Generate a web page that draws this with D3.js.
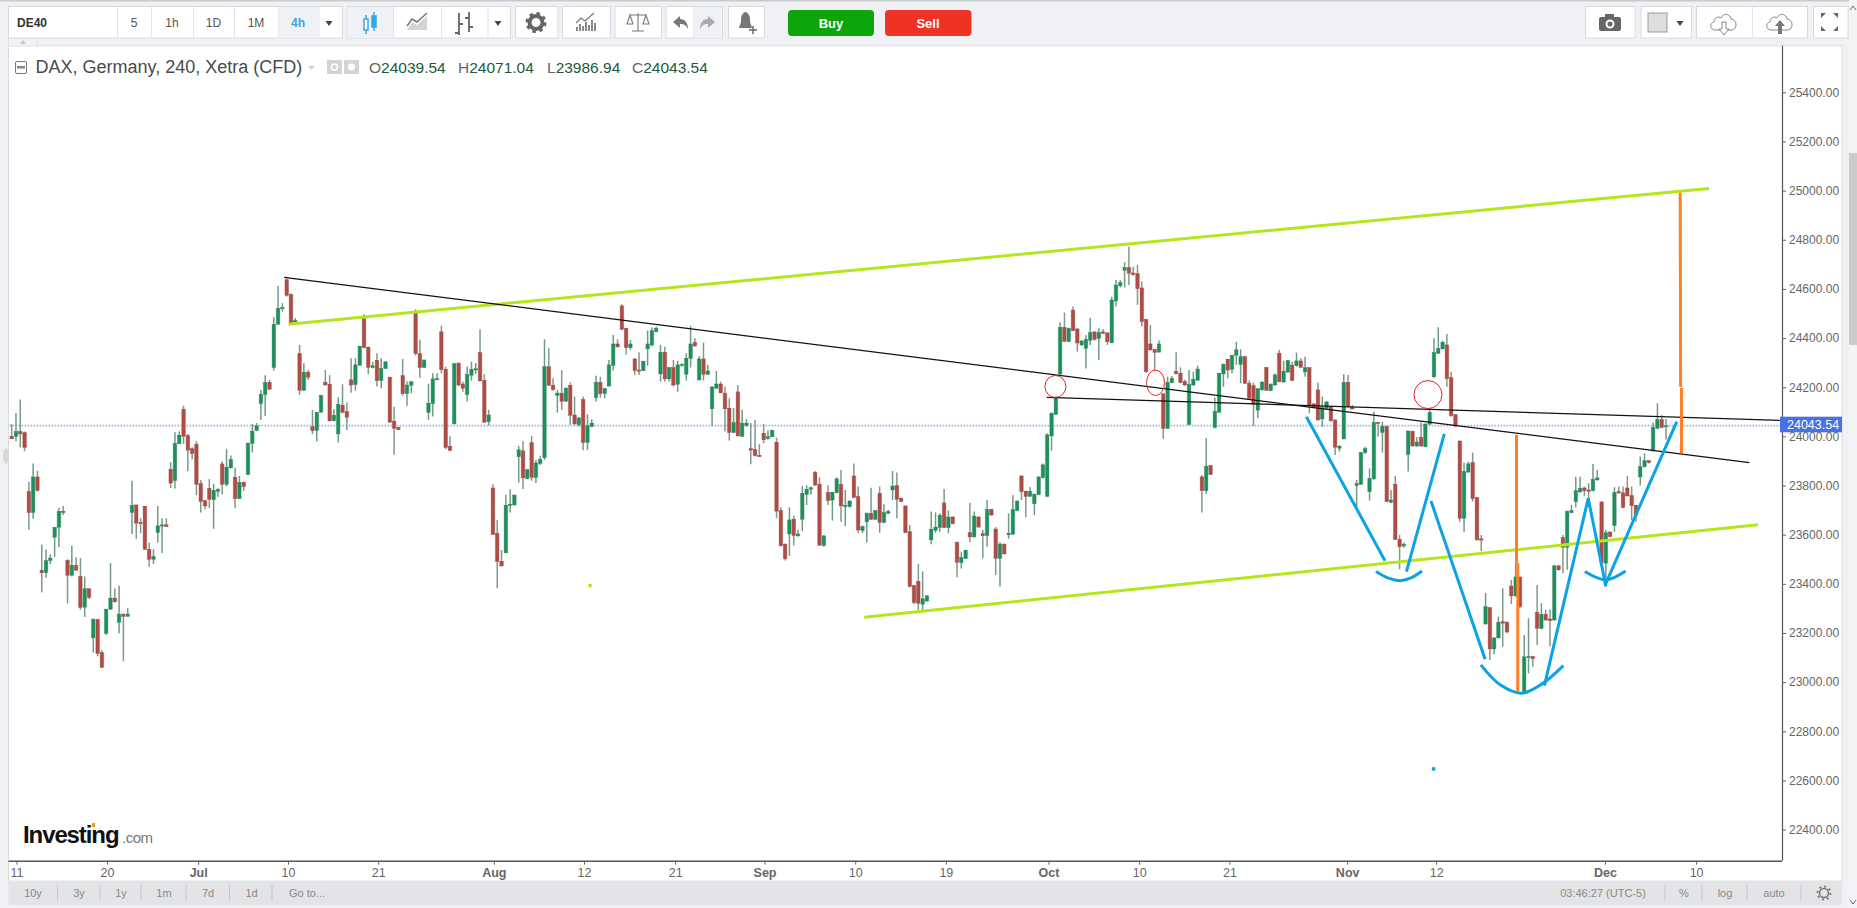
<!DOCTYPE html>
<html><head><meta charset="utf-8"><title>DE40</title>
<script src="https://cdnjs.cloudflare.com/ajax/libs/d3/7.8.5/d3.min.js"></script>
<style>html,body{margin:0;padding:0;background:#f0f1f5;overflow:hidden}svg{display:block}text{font-family:"Liberation Sans",Arial,sans-serif}</style>
</head><body><svg id="c" width="1857" height="908"></svg>
<script>
// Candles as [open, high, low, close], grouped by month
const junBars=[[24000,24050,23990,23990],[24000,24095,23980,24020],[24020,24150,23955,24010],[24015,24020,23940,23955],[23775,23815,23620,23690],[23690,23890,23665,23835],[23835,23860,23775,23780],[23455,23560,23365,23445],[23445,23540,23425,23495],[23495,23520,23480,23505],[23590,23630,23510,23630],[23630,23710,23550,23695],[23695,23717,23680,23690],[23495,23500,23320,23435],[23435,23555,23430,23475],[23475,23508,23455,23455],[23430,23505,23295,23305],[23305,23430,23265,23380],[23380,23380,23338,23345],[23180,23260,23120,23255],[23255,23255,23105,23117],[23120,23130,23060,23060],[23198,23297,23192,23297],[23297,23485,23294,23342],[23342,23382,23324,23327],[23243,23392,23199,23277],[23277,23277,23085,23268],[23268,23301,23267,23277],[23690,23819,23603,23720],[23721,23721,23583,23647],[23650,23667,23606,23645],[23716,23716,23538,23541],[23541,23568,23470,23500],[23500,23541,23481,23511],[23609,23717,23568,23636],[23635,23667,23525,23640],[23640,23667,23633,23633],[23866,23895,23790,23810],[23820,24017,23788,23972],[23970,24020,23970,24005],[24110,24125,23970,24000],[24003,24010,23858,23944],[23950,23956,23907,23930]];
const julBars=[[23968,23980,23761,23805],[23808,23823,23690,23735],[23738,23742,23703,23717],[23789,23826,23708,23744],[23742,23807,23624,23781],[23776,23789,23754,23785],[23888,23898,23763,23805],[23805,23948,23796,23875],[23872,23922,23869,23906],[23834,23872,23708,23747],[23747,23839,23746,23813],[23813,23816,23778,23796],[23845,23975,23842,23972],[23971,24051,23934,24021],[24024,24054,24021,24043],[24133,24189,24067,24171],[24170,24249,24083,24220],[24220,24230,24189,24192],[24280,24485,24268,24456],[24456,24612,24454,24521],[24520,24542,24508,24524],[24637,24642,24569,24574],[24577,24582,24455,24460],[24460,24481,24456,24471],[24337,24372,24169,24188],[24188,24298,24186,24261],[24261,24270,24230,24241],[24039,24108,24009,24024],[24024,24100,23979,24097],[24098,24168,24097,24167],[24220,24270,24209,24209],[24212,24249,24062,24063],[24064,24110,24062,24086],[24010,24159,23975,24131],[24127,24212,24094,24098],[24101,24138,24026,24078],[24230,24318,24178,24209],[24211,24318,24186,24291],[24290,24367,24287,24367],[24479,24497,24359,24361],[24363,24365,24253,24281],[24280,24304,24277,24287],[24310,24338,24203,24227],[24227,24318,24196,24277],[24276,24307,24275,24303],[24241,24241,24054,24058],[24062,24121,23925,24033],[24036,24040,24025,24028],[24247,24315,24165,24174],[24174,24223,24125,24209],[24208,24223,24176,24222],[24501,24517,24329,24337],[24337,24393,24239,24280],[24280,24311,24280,24311],[24098,24214,24067,24135],[24133,24257,24081,24234],[24231,24257,24230,24235],[24425,24450,24256,24272],[24273,24284,23948,23955],[23960,24000,23942,23942],[24051,24296,24048,24296],[24298,24300,24203,24209],[24213,24223,24182,24196],[24170,24284,24142,24252],[24249,24304,24227,24273],[24271,24298,24254,24275],[24341,24436,24223,24226],[24228,24253,24056,24058],[24060,24108,24044,24087]];
const augBars=[[23790,23805,23599,23601],[23605,23660,23382,23491],[23492,23538,23470,23473],[23526,23762,23525,23720],[23719,23785,23690,23724],[23721,23763,23719,23761],[23917,23961,23812,23945],[23941,23980,23786,23831],[23828,23868,23826,23864],[23974,24001,23820,23833],[23833,23904,23810,23892],[23889,23921,23884,23907],[23913,24395,23904,24283],[24283,24359,24205,24208],[24208,24237,24186,24190],[24167,24189,24097,24176],[24176,24270,24108,24143],[24143,24200,24142,24196],[24208,24220,24047,24086],[24087,24162,24044,24051],[24047,24078,24040,24075],[24150,24161,23944,23975],[23975,24090,23945,24044],[24040,24070,24037,24054],[24157,24247,24142,24220],[24220,24243,24158,24174],[24174,24196,24155,24195],[24205,24311,24203,24291],[24289,24413,24268,24376],[24376,24395,24363,24364],[24531,24538,24433,24436],[24440,24440,24332,24361],[24361,24393,24352,24376],[24315,24318,24249,24268],[24270,24342,24250,24268],[24268,24307,24266,24306],[24356,24430,24288,24376],[24372,24444,24365,24430],[24426,24447,24424,24440],[24254,24372,24223,24342],[24342,24365,24223,24234],[24234,24281,24223,24280],[24280,24311,24203,24209],[24212,24308,24182,24291],[24288,24298,24284,24293],[24253,24338,24227,24318],[24317,24450,24280,24376],[24382,24399,24365,24368],[24230,24327,24227,24315],[24315,24382,24227,24253],[24253,24291,24250,24266],[24112,24205,24043,24201],[24196,24266,24194,24213],[24213,24223,24176,24177],[24176,24203,24020,24112],[24115,24155,23983,24016],[24016,24115,24013,24056],[24181,24208,24000,24002],[24000,24108,23997,24054],[24044,24070,24040,24054],[23950,24054,23887,23944],[23946,24067,23918,23922],[23923,23968,23918,23919]];
const sepBars=[[24013,24051,23972,23986],[23991,24024,23986,23999],[23998,24025,23997,24025],[23976,23995,23667,23696],[23698,23712,23552,23555],[23561,23565,23495,23502],[23603,23711,23514,23660],[23663,23677,23556,23597],[23595,23620,23592,23603],[23663,23798,23615,23768],[23764,23801,23721,23785],[23785,23796,23762,23791],[23854,23859,23798,23802],[23805,23834,23556,23557],[23556,23599,23551,23595],[23772,23801,23721,23739],[23741,23775,23657,23772],[23771,23833,23768,23827],[23805,23863,23653,23717],[23714,23782,23635,23720],[23714,23739,23711,23737],[23839,23890,23748,23752],[23755,23796,23606,23619],[23617,23637,23606,23633],[23652,23690,23568,23687],[23687,23791,23660,23663],[23663,23698,23660,23698],[23768,23796,23608,23650],[23650,23724,23646,23690],[23687,23701,23684,23694],[23782,23859,23741,23798],[23800,23853,23667,23744],[23748,23751,23732,23735],[23717,23717,23608,23608],[23612,23640,23386,23389],[23393,23396,23318,23324],[23410,23481,23294,23321],[23317,23450,23294,23339],[23330,23355,23328,23351],[23579,23694,23561,23622],[23618,23691,23608,23631],[23629,23687,23612,23679],[23729,23786,23626,23629],[23629,23698,23606,23672],[23672,23674,23642,23645],[23569,23572,23427,23488],[23486,23531,23462,23507],[23503,23538,23501,23537],[23608,23730,23569,23591],[23591,23694,23589,23676],[23672,23674,23629,23631],[23604,23619,23504,23596],[23596,23741,23551,23702],[23703,23705,23678,23680],[23623,23631,23436,23504],[23504,23569,23389,23562],[23561,23565,23520,23522],[23600,23687,23584,23606],[23602,23760,23599,23702],[23698,23739,23695,23737],[23839,23840,23741,23775],[23777,23779,23671,23756],[23756,23793,23755,23777],[23726,23768,23680,23764],[23763,23836,23762,23835],[23832,23890,23829,23884]];
const octBars=[[23756,24013,23755,24006],[24002,24097,23942,24094],[24090,24162,24087,24155],[24254,24464,24250,24444],[24444,24504,24386,24386],[24386,24442,24383,24440],[24514,24528,24430,24430],[24437,24440,24345,24380],[24372,24392,24369,24388],[24358,24411,24276,24395],[24390,24483,24372,24423],[24425,24426,24390,24395],[24399,24440,24311,24423],[24425,24437,24417,24419],[24421,24423,24372,24385],[24381,24568,24379,24555],[24551,24636,24528,24616],[24613,24636,24606,24625],[24676,24708,24606,24687],[24687,24772,24616,24664],[24665,24690,24655,24658],[24662,24697,24535,24601],[24604,24630,24447,24467],[24476,24476,24259,24263],[24376,24453,24349,24352],[24354,24354,24270,24342],[24343,24390,24342,24376],[24173,24175,23990,24033],[24033,24243,24030,24220],[24219,24246,24216,24236],[24265,24342,24253,24255],[24257,24281,24216,24219],[24223,24230,24207,24209],[24048,24270,24048,24212],[24209,24263,24206,24232],[24229,24288,24226,24274],[23835,23843,23690,23779],[23779,23992,23766,23878],[23881,23884,23844,23845],[24036,24158,24033,24102],[24098,24257,24097,24257],[24254,24297,24202,24293],[24314,24314,24236,24270],[24273,24331,24257,24330],[24330,24385,24291,24352],[24293,24354,24216,24324],[24324,24327,24213,24216],[24216,24227,24148,24155],[24206,24219,24042,24131],[24107,24196,24074,24194],[24189,24223,24186,24221],[24280,24281,24185,24188],[24186,24216,24185,24212],[24209,24257,24206,24250],[24338,24352,24220,24223],[24221,24308,24220,24265],[24262,24311,24259,24308],[24290,24304,24225,24227],[24288,24341,24284,24307],[24307,24318,24280,24281],[24262,24324,24243,24280],[24280,24280,24094,24128],[24132,24135,24114,24118],[24189,24219,24064,24067],[24071,24162,24040,24117],[24114,24143,24112,24140],[24120,24121,24060,24064],[24067,24067,23924,23956],[23952,23965,23938,23960],[23990,24253,23987,24220]];
const novBars=[[24220,24250,24118,24121],[24117,24128,24110,24112],[23800,23823,23701,23808],[23805,23936,23802,23935],[23935,23958,23928,23950],[23775,23870,23739,23829],[23827,24100,23824,24057],[24057,24059,23999,24053],[24016,24060,23934,24041],[24041,24042,23732,23735],[23732,23782,23728,23741],[23805,23839,23579,23581],[23581,23599,23459,23551],[23554,23568,23547,23561],[23926,24022,23857,24022],[24021,24022,23958,23961],[23961,23996,23958,23977],[23996,24056,23958,23961],[23958,24053,23955,24050],[24050,24114,24046,24098],[24242,24399,24239,24342],[24338,24444,24335,24358],[24356,24390,24354,24383],[24372,24417,24202,24235],[24239,24263,24080,24084],[24088,24091,24040,24042],[23981,23983,23653,23667],[23667,23893,23612,23857],[23855,23897,23852,23888],[23893,23934,23735,23747],[23751,23752,23576,23579],[23583,23599,23534,23579],[23237,23362,23233,23307],[23303,23305,23090,23135],[23135,23183,23113,23180],[23180,23267,23179,23244],[23246,23382,23145,23240],[23244,23246,23199,23204],[23391,23416,23318,23351],[23351,23484,23348,23428],[23428,23429,23301,23307],[22962,23192,22955,23103],[23100,23260,23036,23104],[23104,23107,23063,23096],[23284,23395,23151,23219],[23219,23321,23215,23276],[23276,23294,23250,23253],[23257,23296,23145,23250],[23253,23477,23250,23473],[23473,23477,23454,23457],[23588,23599,23443,23549],[23549,23698,23457,23695],[23690,23721,23687,23698],[23734,23836,23711,23779],[23774,23836,23771,23789],[23790,23796,23758,23779],[23782,23809,23714,23778],[23779,23888,23777,23825],[23823,23863,23820,23831],[23733,23735,23484,23486]];
const decBars=[[23484,23619,23402,23608],[23611,23612,23590,23592],[23637,23793,23612,23772],[23775,23796,23768,23770],[23770,23796,23708,23711],[23790,23839,23755,23758],[23759,23796,23660,23718],[23720,23721,23653,23680],[23835,23918,23800,23877],[23877,23931,23873,23901],[23901,23904,23890,23893],[23941,24056,23938,24036],[24033,24135,24030,24069],[24069,24087,24033,24037],[24039.54,24071.04,23986.94,24043.54]];

const priceTicks=[22400,22600,22800,23000,23200,23400,23600,23800,24000,24200,24400,24600,24800,25000,25200,25400];
const timeLabels=["11","20","Jul","10","21","Aug","12","21","Sep","10","19","Oct","10","21","Nov","12","Dec","10"];
const timeBars=[1.1,22.2,43.4,64.3,85.3,112.2,133.2,154.4,175.2,196.3,217.4,241.3,262.4,283.4,310.8,331.5,370.8,392];
const lastClose=24043.54;

// Hand-drawn annotations as [bar, price]
const greenLines=[[[64.4,24456],[395,25009]],[[198.4,23264],[406.4,23640]]];
const blackLines=[[[63.4,24647],[404.4,23893]],[[240.9,24159],[411.9,24065]]];
const blueLines=[
 [[301.3,24080],[319.6,23494]],
 [[324.6,23450],[333.4,24010]],
 [[330.3,23737],[342.9,23093]],
 [[356.7,22986],[366.9,23748],[371,23389]],
 [[371,23402],[387.5,24060]]];
const blueCurves=[
 [[317.5,23450],[320.4,23423],[323.2,23413],[325.8,23425],[328.2,23452]],
 [[341.9,23070],[346.4,22989],[351.4,22955],[356.4,22996],[361.1,23067]],
 [[366.1,23450],[371,23416],[375.6,23452]]];
const orangeLines=[[[350.2,24006],[350.2,23484]],[[350.5,23484],[350.5,22961]],[[388.3,24991],[388.4,24201]],[[388.6,24197],[388.6,23931]]];
const redCircles=[[242.9,24203],[266.2,24218],[329.6,24170]];
const redRadii=[[10.5,11],[9,12.7],[14,14]];
const strayDots=[[134.6,23393,"#b5e61d"],[330.9,22647,"#1a9ad6"]];

const bars=[...junBars,...julBars,...augBars,...sepBars,...octBars,...novBars,...decBars];

const svg=d3.select("#c");
const x=d3.scaleLinear().domain([0,392]).range([11.67,1696.1]);
const y=d3.scaleLinear().domain([25400,22400]).range([92.3,829.6]);
const W=1857,H=908,L=8.5,R=1842,T=45.7,AX=1782,AB=860.7;

const defs=svg.append("defs");
defs.append("filter").attr("id","soft").attr("x","-2%").attr("y","-2%").attr("width","104%").attr("height","104%")
 .append("feGaussianBlur").attr("stdDeviation",.35);

// page frame
svg.append("rect").attr("width",W).attr("height",H).attr("fill","#f0f1f5");
svg.append("rect").attr("x",0).attr("y",0).attr("width",W).attr("height",1.5).attr("fill","#c9cbcb");
svg.append("rect").attr("x",L).attr("y",T).attr("width",R-L).attr("height",881-T).attr("fill","#fff").attr("stroke","#d9dbe0");
svg.append("rect").attr("x",1849).attr("y",0).attr("width",8).attr("height",H).attr("fill","#f4f4f4");
svg.append("rect").attr("x",1849).attr("y",153).attr("width",8).attr("height",192).attr("fill","#cbcbcb");
svg.append("path").attr("d","M1850 10l3-4 3 4").attr("fill","none").attr("stroke","#666");
svg.append("path").attr("d","M1850 900l3 4 3-4").attr("fill","none").attr("stroke","#666");
svg.append("rect").attr("x",L).attr("y",38).attr("width",29).attr("height",8).attr("fill","#f0f1f5").attr("stroke","#e0e2e7");
svg.append("path").attr("d","M20 44l3-4 3 4z").attr("fill","#c3c6cb");
svg.append("ellipse").attr("cx",6).attr("cy",456).attr("rx",3).attr("ry",8).attr("fill","#d8d8d8");

// toolbar
function box(x0,x1,fill){svg.append("rect").attr("x",x0+.5).attr("y",6.5).attr("width",x1-x0).attr("height",31.5).attr("fill",fill||"#fff").attr("stroke","#d8dbe2");}
function sep(xp){svg.append("line").attr("x1",xp+.5).attr("x2",xp+.5).attr("y1",7).attr("y2",38).attr("stroke","#e2e4e9");}
function tb(t,cx,cy,opt={}){return svg.append("text").attr("x",cx).attr("y",cy).attr("text-anchor",opt.a||"middle").attr("font-size",opt.s||12).attr("font-weight",opt.w||"normal").attr("fill",opt.c||"#555").text(t);}
box(8,342);[117,151,193,234,278,318.5].forEach(sep);
svg.append("rect").attr("x",278.5).attr("y",7).attr("width",40).attr("height",31).attr("fill","#f0f1f5");
tb("DE40",17,27,{a:"start",w:"bold",s:12,c:"#333"});
[["5",134],["1h",172],["1D",213.5],["1M",256]].forEach(d=>tb(d[0],d[1],27));
tb("4h",298,27,{c:"#3aa6dd",w:"bold"});
function caret(cx,cy){svg.append("path").attr("d",`M${cx-3.5} ${cy-2}h7l-3.5 5z`).attr("fill","#444");}
caret(329,23);
box(346,510);[393,441,487.5].forEach(sep);
svg.append("rect").attr("x",346.5).attr("y",7).attr("width",46.5).attr("height",31).attr("fill","#f0f1f5");
svg.append("path").attr("d","M366 15v4M366 30v4M374 12v4M374 27v4").attr("stroke","#35a8e0").attr("stroke-width",1.5);
svg.append("rect").attr("x",364).attr("y",19).attr("width",4).attr("height",11).attr("fill","#fff").attr("stroke","#35a8e0").attr("stroke-width",1.5);
svg.append("rect").attr("x",372).attr("y",16).attr("width",4).attr("height",11).attr("fill","#35a8e0").attr("stroke","#35a8e0").attr("stroke-width",1.5);
svg.append("path").attr("d","M407 30l5-8 5 3 10-9v14z").attr("fill","#d4d4d4");
svg.append("path").attr("d","M407 26l5-7 5 3 10-9").attr("fill","none").attr("stroke","#777").attr("stroke-width",1.5);
svg.append("path").attr("d","M459 13v22M455 33h4M459 24h4M469 12v20M465 18h4M469 27h4").attr("fill","none").attr("stroke","#666").attr("stroke-width",1.8);
caret(498,23);
box(515,557.5);
svg.append("circle").attr("cx",536).attr("cy",22.5).attr("r",6.5).attr("fill","none").attr("stroke","#666").attr("stroke-width",4);
svg.append("circle").attr("cx",536).attr("cy",22.5).attr("r",9).attr("fill","none").attr("stroke","#666").attr("stroke-width",3).attr("stroke-dasharray","3.5 3.6");
box(562,610);
svg.append("path").attr("d","M577 31v-4M580 31v-7M583 31v-5M586 31v-9M589 31v-6M592 31v-11M595 31v-8").attr("stroke","#777").attr("stroke-width",1.7);
svg.append("path").attr("d","M576 23l5-5 4 3 9-8").attr("fill","none").attr("stroke","#777").attr("stroke-width",1.2);
box(614.5,661);
svg.append("path").attr("d","M638 13v18M632 31h12M630 15h16M630 15l-3 9h6zM646 15l-3 9h6z").attr("fill","none").attr("stroke","#777").attr("stroke-width",1.1);
box(665.5,722);sep(693);
svg.append("rect").attr("x",693.5).attr("y",7).attr("width",28).attr("height",31).attr("fill","#f0f1f5");
svg.append("path").attr("d","M673 22l7-6v3c5 0 8 4 8 10-2-4-4-5-8-5v4z").attr("fill","#777");
svg.append("path").attr("d","M715 22l-7-6v3c-5 0-8 4-8 10 2-4 4-5 8-5v4z").attr("fill","#aaa");
box(728,764);
svg.append("path").attr("d","M745 12c-1 0-2 1-2 2-2 1-2 4-2 7 0 3-2 5-2 7h13c0-2-2-4-2-7 0-3 0-6-2-7 0-1-1-2-3-2z").attr("fill","#777");
svg.append("path").attr("d","M753 26v8M749 30h8").attr("stroke","#666").attr("stroke-width",1.5);
[[788,874,"#0ea50b","Buy",831],[885,971.5,"#ee3224","Sell",928]].forEach(d=>{
 svg.append("rect").attr("x",d[0]).attr("y",10).attr("width",d[1]-d[0]).attr("height",26).attr("rx",4).attr("fill",d[2]);
 tb(d[3],d[4],27.5,{w:"bold",c:"#fff",s:13});
});
box(1585,1634.6);
svg.append("rect").attr("x",1599).attr("y",17).attr("width",22).attr("height",14).attr("rx",2).attr("fill","#666");
svg.append("rect").attr("x",1605).attr("y",14).attr("width",9).attr("height",4).attr("fill","#666");
svg.append("circle").attr("cx",1610).attr("cy",24).attr("r",3.5).attr("fill","none").attr("stroke","#fff").attr("stroke-width",2);
box(1640.5,1691);
svg.append("rect").attr("x",1648).attr("y",13).attr("width",19).attr("height",19).attr("fill","#dedede").attr("stroke","#999");
caret(1680,23);
box(1696,1807);sep(1752);
function cloud(cx,fill){
 svg.append("path").attr("d",`M${cx-9} 30c-5 0-6-7-1-8 0-5 5-6 7-4 2-5 9-5 10 1 6 0 7 10 1 11z`).attr("fill","none").attr("stroke","#888");
 svg.append("path").attr("d",fill?`M${cx} 20l5 6h-3v8h-4v-8h-3z`:`M${cx-2} 22h4v7h3l-5 6-5-6h3z`).attr("fill",fill?"#777":"#fff").attr("stroke",fill?"none":"#888");
}
cloud(1724,false);cloud(1780,true);
box(1813,1847.5);
svg.append("path").attr("d","M1821 13h5l-5 5zM1838 13h-5l5 5zM1821 31h5l-5-5zM1838 31h-5l5-5z").attr("fill","#666");

// legend line
svg.append("rect").attr("x",15.5).attr("y",61.5).attr("width",11).attr("height",12).attr("rx",1.5).attr("fill","#fff").attr("stroke","#777");
svg.append("rect").attr("x",17).attr("y",66).attr("width",8).attr("height",2.5).attr("fill","#888");
tb("DAX, Germany, 240, Xetra (CFD)",35.5,73,{a:"start",s:18,c:"#4a4a4a"});
svg.append("path").attr("d","M308 66h7l-3.5 3.5z").attr("fill","#ccc");
svg.append("rect").attr("x",327).attr("y",60).attr("width",15).attr("height",14).attr("fill","#d4d4d4");
svg.append("rect").attr("x",344).attr("y",60).attr("width",15).attr("height",14).attr("fill","#d4d4d4");
svg.append("circle").attr("cx",334.5).attr("cy",67).attr("r",3).attr("fill","none").attr("stroke","#fff").attr("stroke-width",1.5);
svg.append("circle").attr("cx",351.5).attr("cy",67).attr("r",3.5).attr("fill","#fff");
[["O","24039.54",369],["H","24071.04",458],["L","23986.94",547],["C","24043.54",632]].forEach(d=>{
 const t=tb(d[0],d[2],73,{a:"start",s:15.5,c:"#666"});
 t.append("tspan").attr("fill","#1d5a3a").text(d[1]);
});

// axes drawn through d3
const gY=svg.append("g").attr("transform",`translate(${AX},0)`)
 .call(d3.axisRight(y).tickValues(priceTicks).tickSize(4).tickPadding(3).tickFormat(d3.format(".2f")));
gY.select(".domain").attr("d",`M0.5 ${T}V${AB}`).attr("stroke","#555").attr("stroke-width",1.2);
gY.selectAll(".tick line").attr("stroke","#666");
gY.selectAll("text").attr("font-size",12).attr("fill","#666").attr("font-family","Liberation Sans");
const gX=svg.append("g").attr("transform",`translate(0,${AB})`)
 .call(d3.axisBottom(x).tickValues(timeBars).tickSize(4).tickPadding(3).tickFormat((d,i)=>timeLabels[i]));
gX.select(".domain").attr("d",`M${L} 0.5H${AX}`).attr("stroke","#555").attr("stroke-width",1.4);
gX.selectAll(".tick line").attr("stroke","#666");
gX.selectAll("text").attr("font-size",12.5).attr("fill","#666").attr("font-family","Liberation Sans")
 .attr("font-weight",(d,i)=>/[A-Za-z]/.test(timeLabels[i])?"bold":"normal");

// last price guide
svg.append("line").attr("x1",L+1).attr("x2",AX).attr("y1",y(lastClose)).attr("y2",y(lastClose))
 .attr("stroke","#9fb0f0").attr("stroke-width",1.6).attr("stroke-dasharray","1.6 1.4");

// candles
const up=d=>d[3]>=d[0];
const cG=svg.append("g").attr("filter","url(#soft)");
cG.selectAll(".w").data(bars).join("line").attr("class","w")
 .attr("x1",(d,i)=>x(i)).attr("x2",(d,i)=>x(i)).attr("y1",d=>y(d[1])).attr("y2",d=>y(d[2]))
 .attr("stroke",d=>up(d)?"#6f9a86":"#7f9a8a").attr("stroke-width",1.5);
cG.selectAll(".h").data(bars).join("rect").attr("class","h")
 .attr("x",(d,i)=>x(i)-2.5).attr("width",5)
 .attr("y",d=>y(Math.max(d[0],d[3]))-.5).attr("height",d=>Math.max(1.5,Math.abs(y(d[0])-y(d[3])))+1)
 .attr("fill",d=>up(d)?"#bcdccb":"#e3c4c1").attr("opacity",.65);
cG.selectAll(".b").data(bars).join("rect").attr("class","b")
 .attr("x",(d,i)=>x(i)-1.6).attr("width",3.2)
 .attr("y",d=>y(Math.max(d[0],d[3]))).attr("height",d=>Math.max(1.2,Math.abs(y(d[0])-y(d[3]))))
 .attr("fill",d=>up(d)?"#18945c":"#b34c44").attr("stroke",d=>up(d)?"#2b6a4c":"#7c3833").attr("stroke-width",.35);

// hand-drawn annotations
const line=d3.line().x(d=>x(d[0])).y(d=>y(d[1]));
const curve=d3.line().x(d=>x(d[0])).y(d=>y(d[1])).curve(d3.curveCatmullRom);
const ann=svg.append("g").attr("fill","none");
ann.selectAll(".g").data(greenLines).join("path").attr("d",line).attr("stroke","#b5e61d").attr("stroke-width",3);
ann.selectAll(".k").data(blackLines).join("path").attr("d",line).attr("stroke","#111").attr("stroke-width",1.2);
ann.selectAll(".bl").data(blueLines).join("path").attr("d",line).attr("stroke","#0ba3e6").attr("stroke-width",3);
ann.selectAll(".bc").data(blueCurves).join("path").attr("d",curve).attr("stroke","#0ba3e6").attr("stroke-width",3);
ann.selectAll(".o").data(orangeLines).join("path").attr("d",line).attr("stroke","#ff7f27").attr("stroke-width",3);
ann.selectAll(".r").data(redCircles).join("ellipse").attr("cx",d=>x(d[0])).attr("cy",d=>y(d[1]))
 .attr("rx",(d,i)=>redRadii[i][0]).attr("ry",(d,i)=>redRadii[i][1]).attr("stroke","#ed1c24").attr("stroke-width",1);
svg.selectAll(".dot").data(strayDots).join("rect").attr("class","dot")
 .attr("x",d=>x(d[0])-1.7).attr("y",d=>y(d[1])-1.7).attr("width",3.4).attr("height",3.4).attr("fill",d=>d[2]);

// last price tag
svg.append("rect").attr("x",AX-2).attr("y",416.7).attr("width",R-AX+2).attr("height",15.6).attr("fill","#4a71e3");
svg.append("text").attr("x",1787).attr("y",429).attr("font-size",12.5).attr("fill","#fff").text(d3.format(".2f")(lastClose));

// logo
svg.append("text").attr("x",23).attr("y",843).attr("font-size",24).attr("font-weight","bold").attr("letter-spacing",-1.1).attr("fill","#111").text("Investing");
svg.append("text").attr("x",122).attr("y",843).attr("font-size",15).attr("letter-spacing",-.5).attr("fill","#777").text(".com");
svg.append("rect").attr("x",92).attr("y",823).attr("width",3).attr("height",4).attr("fill","#f39b1b");

// bottom bar
svg.append("rect").attr("x",L).attr("y",881).attr("width",R-L).attr("height",24).attr("fill","#e3e4e6");
[["10y",33],["3y",79],["1y",121],["1m",164],["7d",208],["1d",251.5],["Go to...",307],["03:46:27 (UTC-5)",1603],["%",1684],["log",1725],["auto",1774]].forEach(d=>tb(d[0],d[1],897,{s:11,c:"#888"}));
[57.5,100,141,186,229.5,272,1665,1702,1747,1801].forEach(v=>svg.append("line").attr("x1",v).attr("x2",v).attr("y1",885).attr("y2",901).attr("stroke","#c6c7ca"));
svg.append("circle").attr("cx",1824).attr("cy",893).attr("r",4.5).attr("fill","none").attr("stroke","#777").attr("stroke-width",1.5);
svg.append("circle").attr("cx",1824).attr("cy",893).attr("r",6.5).attr("fill","none").attr("stroke","#777").attr("stroke-width",1.8).attr("stroke-dasharray","2 3");
</script></body></html>
